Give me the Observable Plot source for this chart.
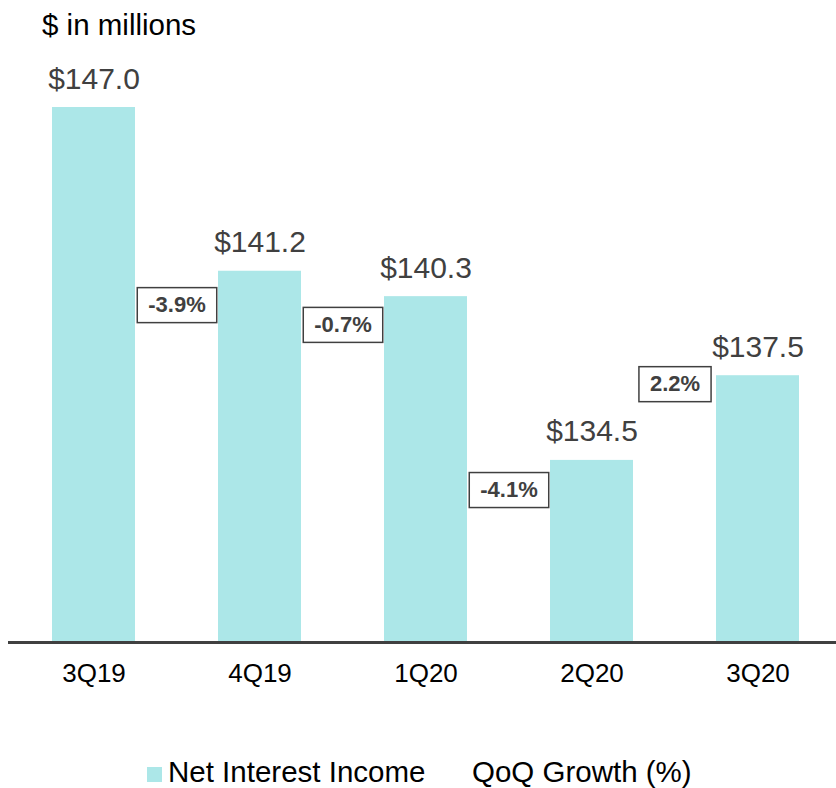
<!DOCTYPE html>
<html>
<head>
<meta charset="utf-8">
<script src="https://cdn.jsdelivr.net/npm/d3@7"></script>
<script src="https://cdn.jsdelivr.net/npm/@observablehq/plot@0.6"></script>
<style>
  body { margin: 0; background: #fff; font-family: "Liberation Sans", Arial, sans-serif; }
  #wrap { position: relative; width: 836px; height: 788px; overflow: hidden; }
  .txt { position: absolute; line-height: 1; font-size: 29.5px; color: #000; white-space: nowrap; }
  #chart { position: absolute; left: 0; top: 45px; }
  #swatch { position: absolute; left: 147px; top: 767px; width: 15px; height: 15px; background: #ace7e8; }
</style>
</head>
<body>
<div id="wrap">
  <div class="txt" style="left:42px; top:10px;">$ in millions</div>
  <div id="chart"></div>
  <div id="swatch"></div>
  <div class="txt" style="left:168px; top:757px;">Net Interest Income</div>
  <div class="txt" style="left:472px; top:757px;">QoQ Growth (%)</div>
</div>
<script>
const quarters = ["3Q19", "4Q19", "1Q20", "2Q20", "3Q20"];
const netInterestIncome = [147.0, 141.2, 140.3, 134.5, 137.5];
const growthValues = [-3.9, -0.7, -4.1, 2.2];
// vertical anchor of each growth label, in $ millions on the bar scale
const growthLabelY = [140.0, 139.3, 133.45, 137.2];
const yBase = 128.05;
const yTop = 147.0;

const rows = quarters.map((q, i) => ({q, v: netInterestIncome[i]}));
const growth = growthValues.map((g, i) => ({q: quarters[i + 1], y: growthLabelY[i], t: g.toFixed(1) + "%"}));

const measureCtx = document.createElement("canvas").getContext("2d");
measureCtx.font = "bold 22px 'Liberation Sans', Arial, sans-serif";

function boxedLabels(index, scales, values, dimensions, context, next) {
  const g = next(index, scales, values, dimensions, context);
  const NS = "http://www.w3.org/2000/svg";
  const padX = 11, h = 35;
  const first = g.firstChild;
  for (const i of index) {
    const w = measureCtx.measureText(growth[i].t).width + 2 * padX;
    const r = document.createElementNS(NS, "rect");
    r.setAttribute("x", values.x[i] - w / 2);
    r.setAttribute("y", values.y[i] - h / 2);
    r.setAttribute("width", w);
    r.setAttribute("height", h);
    r.setAttribute("fill", "none");
    r.setAttribute("stroke", "#404040");
    r.setAttribute("stroke-width", 1.5);
    g.insertBefore(r, first);
  }
  return g;
}

const chart = Plot.plot({
  width: 836,
  height: 700,
  marginTop: 62,
  marginBottom: 103,
  marginLeft: 8,
  marginRight: 0,
  style: {background: "white", color: "#000", fontFamily: "'Liberation Sans', Arial, sans-serif"},
  x: {domain: quarters, paddingInner: 0.5, paddingOuter: 0.2375, align: 0.544, axis: null, label: null},
  y: {domain: [yBase, yTop], axis: null},
  marks: [
    Plot.barY(rows, {x: "q", y1: yBase, y2: "v", fill: "#ace7e8"}),
    Plot.ruleY([yBase], {stroke: "#404040", strokeWidth: 3}),
    Plot.axisX({tickSize: 0, tickPadding: 21, fontSize: 26, fill: "#000", label: null}),
    Plot.text(rows, {x: "q", y: "v", text: d => "$" + d.v.toFixed(1), lineAnchor: "bottom", dy: -19, fontSize: 30, fill: "#404040"}),
    Plot.text(growth, {x: "q", y: "y", text: "t", dx: -83, fontSize: 22, fontWeight: "bold", fill: "#404040", render: boxedLabels})
  ]
});
document.getElementById("chart").append(chart);
</script>
</body>
</html>
